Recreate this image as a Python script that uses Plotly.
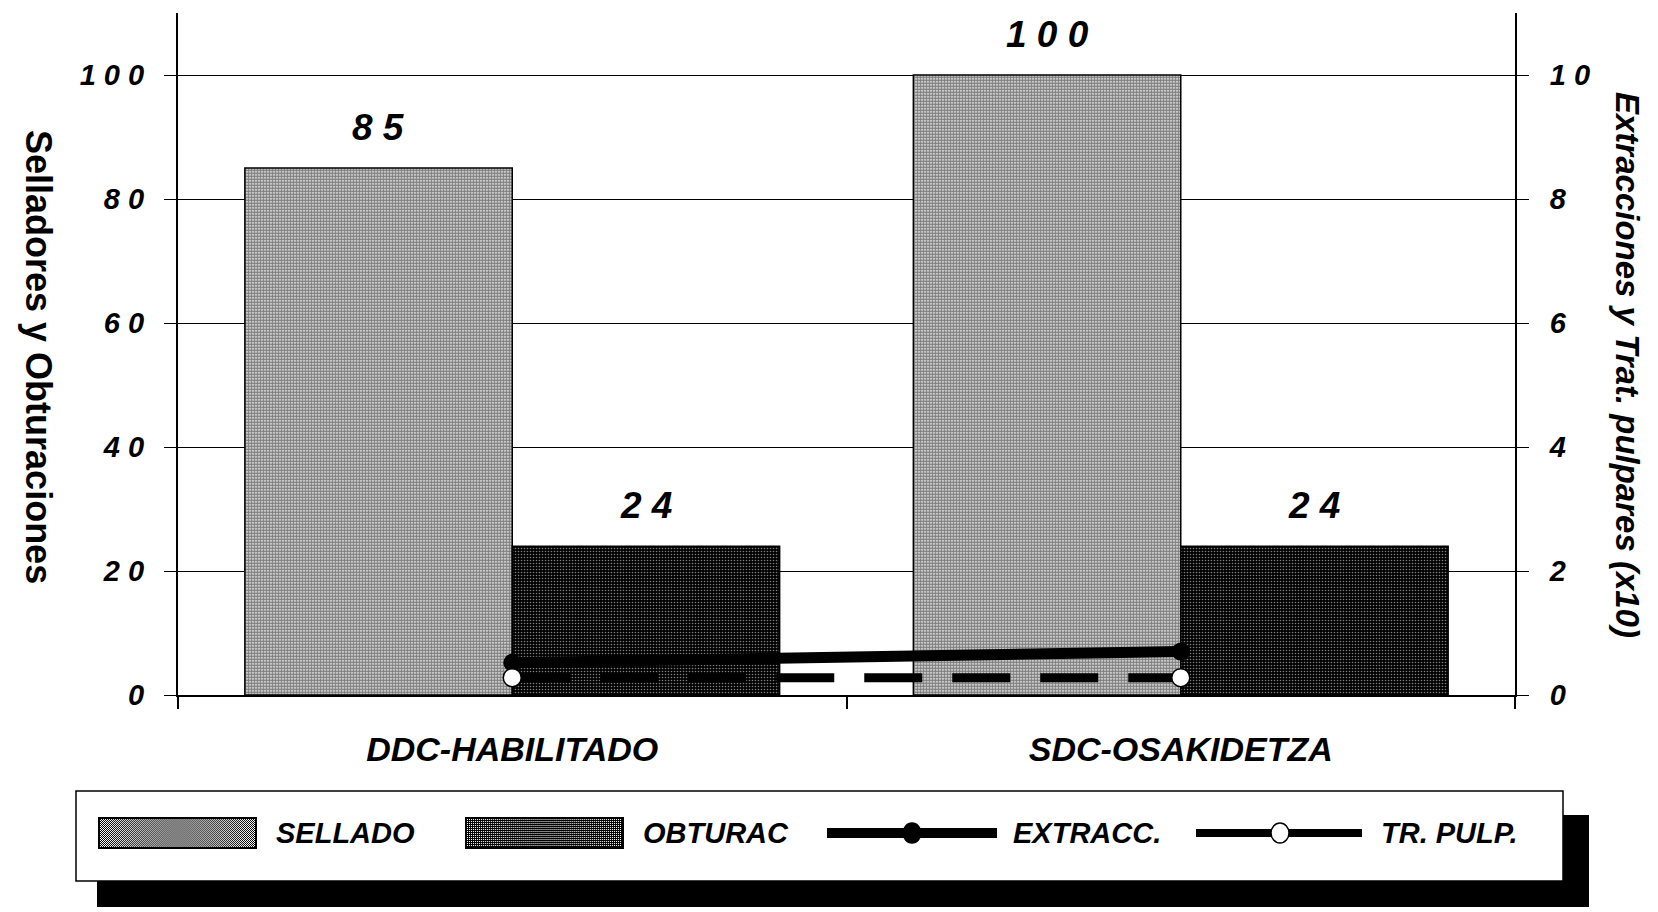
import base64
import plotly.graph_objects as go

# --- data -------------------------------------------------------------
categories = ["DDC-HABILITADO", "SDC-OSAKIDETZA"]
sellado = [85, 100]          # left axis
obturac = [24, 24]           # left axis
extracc = [0.52, 0.70]       # right axis (x10)
tr_pulp = [0.28, 0.28]       # right axis (x10)
left_ticks = [0, 20, 40, 60, 80, 100]
right_ticks = [0, 2, 4, 6, 8, 10]
legend_names = ["SELLADO", "OBTURAC", "EXTRACC.", "TR. PULP."]

# --- page geometry ------------------------------------------------------
W, H = 1658, 912
ML, MR, MT, MB = 178, 143, 13, 217
PW, PH = W - ML - MR, H - MT - MB
FONT = "Liberation Sans"


def px(x):
    """page pixel x -> paper x"""
    return (x - ML) / PW


def py(y):
    """page pixel y -> paper y"""
    return (H - MB - y) / PH


def spaced(v):
    return " ".join(str(v))


def bold_italic(size):
    return dict(family=FONT, size=size, color="black", weight="bold", style="italic")


LIGHT = dict(shape=".", fgcolor="black", bgcolor="white", size=3, solidity=0.78)
DARK = dict(shape=".", fgcolor="white", bgcolor="black", size=3, solidity=0.22)

fig = go.Figure()
fig.add_bar(x=categories, y=sellado, name=legend_names[0],
            marker=dict(color="white", pattern=LIGHT, line=dict(color="black", width=1.5)))
fig.add_bar(x=categories, y=obturac, name=legend_names[1],
            marker=dict(color="black", pattern=DARK, line=dict(color="black", width=1.5)))
fig.add_scatter(x=categories, y=extracc, yaxis="y2", mode="lines+markers", name=legend_names[2],
                line=dict(color="black", width=11),
                marker=dict(size=18, color="black"))
fig.add_scatter(x=categories, y=tr_pulp, yaxis="y2", mode="lines+markers", name=legend_names[3],
                line=dict(color="black", width=9, dash="58px,30px"),
                marker=dict(size=18, color="white", line=dict(color="black", width=1.5)))

# value labels above the bars
cat_px = PW / len(categories)
annotations = []
for j, series in enumerate([sellado, obturac]):
    offset = (-0.2 + 0.4 * j) * cat_px
    for c, v in zip(categories, series):
        annotations.append(dict(x=c, y=v, xref="x", yref="y", text=spaced(v),
                                showarrow=False, xshift=offset, yshift=41,
                                font=bold_italic(37)))

# axis titles (rotated to read downwards)
annotations.append(dict(xref="paper", yref="paper", x=px(39), y=py(357),
                        xanchor="center", yanchor="middle",
                        text="Selladores y Obturaciones", textangle=90, showarrow=False,
                        font=dict(family=FONT, size=36, color="black", weight="bold")))
annotations.append(dict(xref="paper", yref="paper", x=px(1628), y=py(365),
                        xanchor="center", yanchor="middle",
                        text="Extracciones y Trat. pulpares (x10)", textangle=90,
                        showarrow=False, font=bold_italic(33)))

# --- legend panel ------------------------------------------------------
shapes = [
    dict(type="rect", xref="paper", yref="paper", x0=px(97), x1=px(1589), y0=py(815), y1=py(907),
         fillcolor="black", line=dict(width=0), layer="below"),
    dict(type="rect", xref="paper", yref="paper", x0=px(76), x1=px(1563), y0=py(791), y1=py(881),
         fillcolor="white", line=dict(color="black", width=1.5), layer="below"),
]


def stipple_uri(cells):
    """2x2 halftone tile; cells lists the black pixel offsets"""
    dots = "".join(f'<rect x="{cx}" y="{cy}" width="1" height="1" fill="black"/>' for cx, cy in cells)
    svg = ('<svg xmlns="http://www.w3.org/2000/svg" width="160" height="32">'
           '<defs><pattern id="p" width="2" height="2" patternUnits="userSpaceOnUse">'
           f'<rect width="2" height="2" fill="white"/>{dots}'
           '</pattern></defs>'
           '<rect x="1" y="1" width="158" height="30" fill="url(#p)" stroke="black" stroke-width="2"/></svg>')
    return "data:image/svg+xml;base64," + base64.b64encode(svg.encode()).decode()


images = []
for (x0, x1), cells in zip([(98, 257), (465, 624)],
                           [[(0, 0), (1, 1)], [(0, 1), (1, 0), (1, 1)]]):
    images.append(dict(source=stipple_uri(cells), xref="paper", yref="paper",
                       x=px(x0), y=py(817), sizex=px(x1) - px(x0), sizey=py(817) - py(849),
                       xanchor="left", yanchor="top", sizing="stretch", layer="above"))

for (x0, x1, xm), fill, lw in zip([(827, 997, 912), (1196, 1362, 1280)],
                                  ["black", "white"], [10, 8]):
    shapes.append(dict(type="line", xref="paper", yref="paper", x0=px(x0), x1=px(x1),
                       y0=py(833), y1=py(833), line=dict(color="black", width=lw), layer="above"))
    shapes.append(dict(type="circle", xref="paper", yref="paper", xsizemode="pixel",
                       ysizemode="pixel", xanchor=px(xm), yanchor=py(833),
                       x0=-9, x1=9, y0=-10, y1=10, fillcolor=fill,
                       line=dict(color="black", width=1.5), layer="above"))

for name, xt in zip(legend_names, [274, 641, 1011, 1379]):
    annotations.append(dict(xref="paper", yref="paper", x=px(xt), y=py(833), xanchor="left",
                            yanchor="middle", text=name, showarrow=False, font=bold_italic(29)))

fig.update_layout(
    width=W, height=H,
    margin=dict(l=ML, r=MR, t=MT, b=MB),
    paper_bgcolor="white", plot_bgcolor="white",
    barmode="group", bargap=0.2, bargroupgap=0,
    showlegend=False,
    xaxis=dict(type="category", showline=True, linecolor="black", linewidth=2,
               ticks="outside", tickson="boundaries", ticklen=12, tickcolor="black",
               tickwidth=1.5, showgrid=False, tickfont=bold_italic(34),
               ticklabelstandoff=23),
    yaxis=dict(range=[0, 110], tickvals=left_ticks, ticktext=[spaced(v) for v in left_ticks],
               showgrid=True, gridcolor="black", gridwidth=1, zeroline=False,
               showline=True, linecolor="black", linewidth=2, ticks="outside", ticklen=12,
               tickcolor="black", tickwidth=1, tickfont=bold_italic(29), ticklabelstandoff=14),
    yaxis2=dict(range=[0, 11], overlaying="y", side="right", tickvals=right_ticks,
                ticktext=[spaced(v) for v in right_ticks], showgrid=False, zeroline=False,
                showline=True, linecolor="black", linewidth=2, ticks="outside", ticklen=12,
                tickcolor="black", tickwidth=1, tickfont=bold_italic(29), ticklabelstandoff=15),
    annotations=annotations,
    shapes=shapes,
    images=images,
)

fig.write_html("out.html")
